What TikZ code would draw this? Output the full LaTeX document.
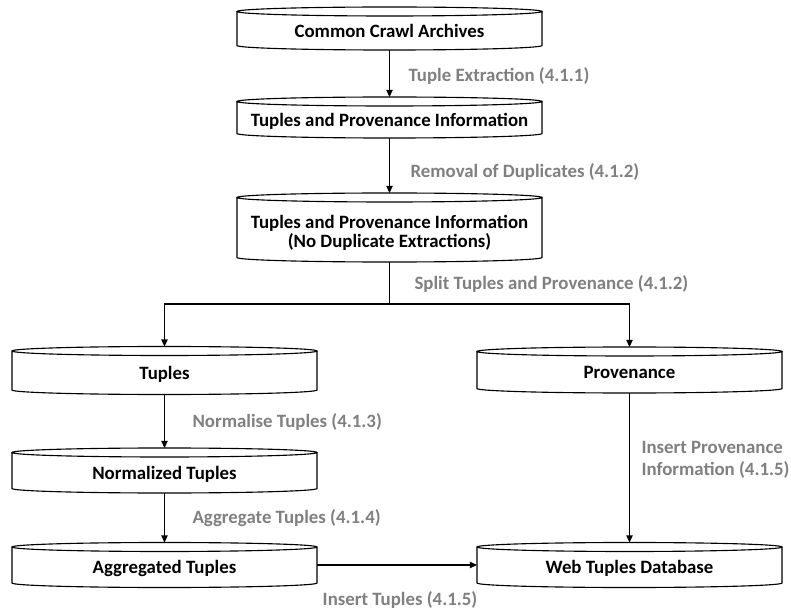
\documentclass[tikz,border=0pt]{standalone}
\usepackage{fontspec}
\setmainfont{Carlito}
\usepackage{xcolor}
\usetikzlibrary{arrows.meta,positioning,calc}

\definecolor{notegray}{RGB}{128,128,128}

\begin{document}
\begin{tikzpicture}[
    x=0.025cm, y=-0.025cm,
    line width=0.8pt,
    >={Triangle[length=5pt,width=4.5pt]},
    store/.style={rectangle, inner sep=0pt, outer sep=0pt, minimum width=7.625cm, minimum height=1.125cm, align=center, font=\bfseries\fontsize{13.4}{13.6}\selectfont, text height=1.47em, text depth=0.25em},
    note/.style={inner sep=0pt, anchor=west, align=left, text=notegray, font=\bfseries\fontsize{13.4}{15.6}\selectfont}
]
    \fill[white] (0,0) rectangle (791,610);
    \useasboundingbox (0,0) rectangle (791,610);

    \node[store, minimum height=1.075cm] (cca) at (389.5,28.5) {Common Crawl Archives};
    \node[store, minimum height=1.025cm] (tpi) at (389.5,117.5) {Tuples and Provenance Information};
    \node[store, minimum height=1.725cm, text height=3.1em] (tpn) at (389.5,227.5) {Tuples and Provenance Information\\(No Duplicate Extractions)};
    \coordinate (split) at (389.5,304);
    \node[store, minimum height=1.2cm] (tup) at (164.5,370.5) {Tuples};
    \node[store, minimum height=1.15cm] (prov) at (629.5,370) {Provenance};
    \node[store] (norm) at (164.5,470.5) {Normalized Tuples};
    \node[store] (aggr) at (164.5,565) {Aggregated Tuples};
    \node[store] (wtd) at (629.5,565) {Web Tuples Database};

    % drum outlines
    \foreach \nd in {cca,tpi,tpn,tup,prov,norm,aggr,wtd}
        \draw let \p1=(\nd.north west), \p2=(\nd.south east) in
            ({(\x1+\x2)/2},{\y1-3.2pt}) ellipse [x radius={(\x2-\x1)/2}, y radius=3.2pt]
            (\x1,{\y1-3.2pt}) -- (\x1,{\y2+3.2pt})
            arc [start angle=180, end angle=360, x radius={(\x2-\x1)/2}, y radius=3.2pt]
            -- (\x2,{\y1-3.2pt});

    \draw[->] (cca) -- (tpi);
    \draw[->] (tpi) -- (tpn);
    \draw (tpn) -- (split);
    \draw[->] (split) -| (tup);
    \draw[->] (split) -| (prov);
    \draw[->] (tup) -- (norm);
    \draw[->] (norm) -- (aggr);
    \draw[->] (prov) -- (wtd);
    \draw[->] (aggr) -- (wtd);

    \node[note] (n1) at (408,76) {Tuple Extraction (4.1.1)};
    \node[note] (n2) at (410,172) {Removal of Duplicates (4.1.2)};
    \node[note] (n3) at (414,284) {Split Tuples and Provenance (4.1.2)};
    \node[note] (n4) at (192,422) {Normalise Tuples (4.1.3)};
    \node[note] (n5) at (192,518) {Aggregate Tuples (4.1.4)};
    \node[note] (n6) at (641,460) {Insert Provenance\\Information (4.1.5)};
    \node[note, anchor=center] (n7) at (400,600) {Insert Tuples (4.1.5)};
\end{tikzpicture}
\end{document}
